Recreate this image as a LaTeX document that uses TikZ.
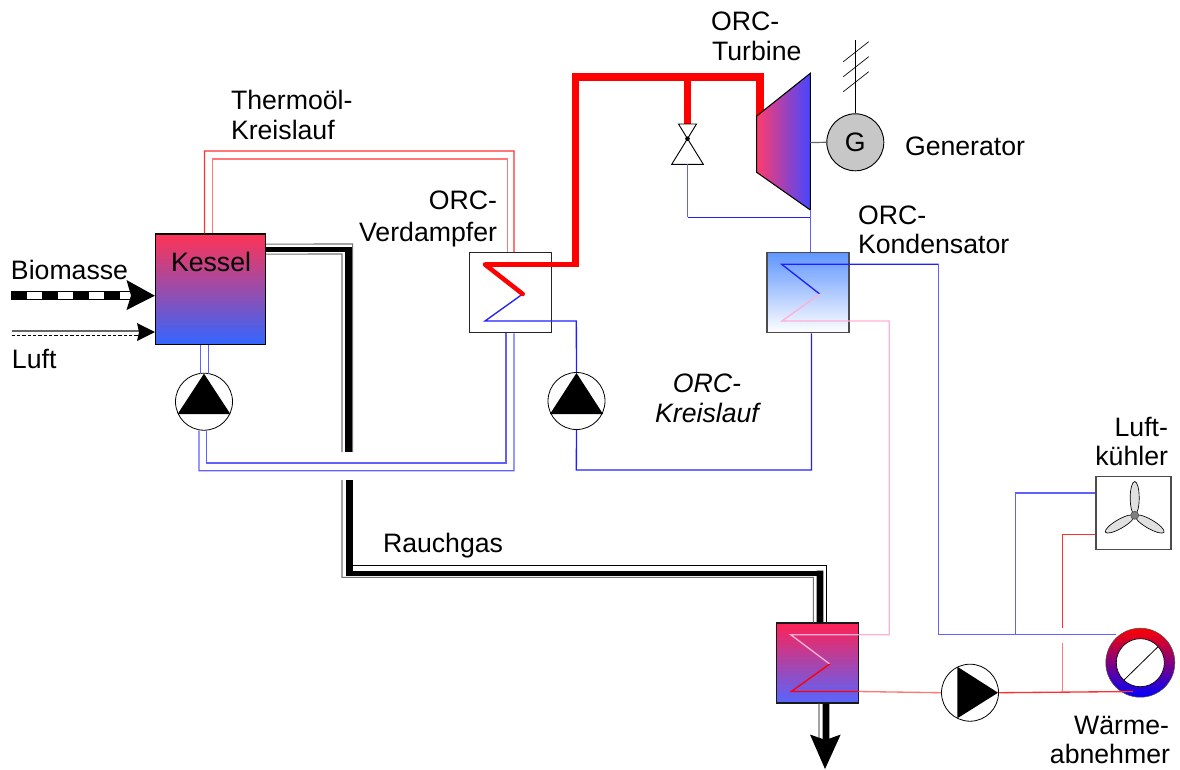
\documentclass[tikz,border=0pt]{standalone}
\usepackage{fontspec}
\setmainfont{Liberation Sans}
\usetikzlibrary{calc}
\definecolor{redA}{HTML}{FF3030}
\definecolor{redB}{HTML}{FF7878}
\definecolor{blueA}{HTML}{2020FF}
\definecolor{blueB}{HTML}{6060FF}
\definecolor{pinkL}{HTML}{FFB0D4}
\tikzset{
  pipe/.style={line width=1pt,miter limit=10},
  boxn/.style 2 args={draw=#1,line width=0.9pt,rectangle,inner sep=0pt,#2},
  hx/.style={minimum width=82*0.75pt,minimum height=80*0.75pt},
  pumpn/.style={draw=black,circle,line width=0.6pt,fill=white,inner sep=0pt,minimum size=57*0.75pt},
  lbl/.style={inner sep=0pt,outer sep=0pt,font=\fontsize{20}{22.5}\selectfont},
  blade/.style={draw=black,line width=0.5pt,fill=black!12}
}
\begin{document}
\begin{tikzpicture}[x=0.75pt,y=-0.75pt]
\useasboundingbox (0,0) rectangle (1180,769);
% ---------- boxes
\node[boxn={black}{},top color={rgb,255:red,255;green,51;blue,85},bottom color={rgb,255:red,51;green,102;blue,255},minimum width=110*0.75pt,minimum height=110.5*0.75pt] (kessel) at (210.5,289.25) {};
\node[boxn={black!85}{fill=white},hx] (verd) at (510.3,292.8) {};
\node[boxn={black!70}{},hx,top color={rgb,255:red,96;green,150;blue,255},bottom color=white] (kond) at (808,292.8) {};
\node[boxn={black!90}{},hx,top color={rgb,255:red,255;green,34;blue,85},bottom color={rgb,255:red,85;green,102;blue,255}] (hex) at (817.7,663) {};
\node[boxn={black!70}{fill=white},minimum width=75*0.75pt,minimum height=72.6*0.75pt] (fanbox) at (1133.5,513) {};
% ---------- Thermoöl pipes
\draw[pipe,redA] ($(kessel.north)+(-6,0)$) -- (204.5,151) -- (514,151) -- ($(verd.north)+(3.7,0)$);
\draw[pipe,redB] ($(kessel.north)+(2,0)$) -- (212.5,159) -- (507.7,159) -- ($(verd.north)+(-2.6,0)$);
% ---------- Rauchgas
\coordinate (gapAo) at (352.7,452); \coordinate (gapBo) at (352.7,480);
\coordinate (gapAm) at (348.3,452); \coordinate (gapBm) at (349.5,480);
\coordinate (gapAi) at (342,452);   \coordinate (gapBi) at (342,480);
\draw[line width=0.8pt,black!55] ($(kessel.east)+(0,-45.2)$) -- (352.7,244) -- (gapAo);
\draw[line width=4pt,black] ($(kessel.east)+(0,-39.5)$) -- (351.6,249.75);
\draw[line width=5pt,black] (348.3,247) -- (gapAm);
\draw[line width=0.8pt,black!55] ($(kessel.east)+(0,-35.2)$) -- (342,254) -- (gapAi);
\draw[line width=0.8pt,black] (gapBo) -- (352.7,565.7) -- (826.3,565.7) -- ($(hex.north)+(8.6,0)$);
\draw[line width=5pt,black] (gapBm) -- (349.5,575.8);
\draw[line width=3.8pt,black] (346.2,573.2) -- (823.3,573.2);
\draw[line width=5pt,black] (820,570.7) -- ($(hex.north)+(2.3,0)$);
\draw[line width=0.8pt,black!55] (gapBi) -- (342,577.3) -- (813.3,577.3) -- ($(hex.north)+(-4.4,0)$);
% outlet
\coordinate (outTip) at (825,769);
\draw[line width=5pt,black] ($(hex.south)+(8.3,0)$) -- (826,741);
\draw[line width=0.8pt,black!55] ($(hex.south)+(1.3,0)$) -- (819,741);
\fill[black] (outTip) -- (810,734.5) -- (825.5,740) -- (840.7,734.5) -- cycle;
% ---------- Biomass and air
\coordinate (bioS) at (11,295.5);
\coordinate (bioT) at ($(kessel.west)+(0,6.5)$);
\draw[line width=6.5pt,black] (bioS) -- (130,295.5);
\draw[line width=4.6pt,white,dash pattern=on 11.5pt off 11.7pt] (27,295.5) -- (130,295.5);
\fill[black] (bioT) -- (126.5,280) -- (131,295.5) -- (126.5,310) -- cycle;
\coordinate (airS) at (11.5,331);
\coordinate (airD) at (11.5,335.3);
\coordinate (airT) at ($(kessel.west)+(0,42.8)$);
\draw[line width=0.9pt,black!60] (airS) -- (140,331);
\draw[line width=0.6pt,black,dash pattern=on 2.5pt off 1.5pt] (airD) -- (140,335.3);
\fill[black] (airT) -- (137,323) -- (139,332) -- (137,341) -- cycle;
% ---------- Boiler circuit
\node[pumpn] (pumpA) at (204,401.7) {};
\draw[pipe,blueB] ($(kessel.south)+(-10,0)$) -- ($(pumpA.center)+(-3.5,-27.5)$);
\draw[pipe,blueB] ($(kessel.south)+(-2,0)$) -- ($(pumpA.center)+(4.5,-27.5)$);
\draw[pipe,blueB] ($(pumpA.south)+(-5,0)$) -- (199,470.7) -- (514,470.7) -- ($(verd.south)+(3.7,0)$);
\draw[pipe,blueB] ($(pumpA.south)+(2.5,0)$) -- (206.5,463) -- (506,463) -- ($(verd.south)+(-4.3,0)$);
\fill[black] (pumpA.center) ++(0,-28) -- ++(-26.5,40.5) -- ++(53,0) -- cycle;
% ---------- ORC circuit
\node[pumpn] (pumpB) at (576.5,401) {};
\fill[black] (pumpB.center) ++(0,-28) -- ++(-26.5,41) -- ++(53,0) -- cycle;
\coordinate (zA) at (485,264.5);
\coordinate (zB) at (522.7,294);
\coordinate (zC) at (485,321);
\draw[pipe,blueA] (zB) -- (zC) -- (576.3,321) -- (pumpB.north);
\draw[pipe,blueA] (pumpB.south) -- (576.3,470) -- (811.5,470) -- ($(kond.south)+(3.5,0)$);
\coordinate (turbL) at (756.7,116);
\coordinate (turbR) at (810.3,73.3);
\coordinate (turbRB) at (810.3,210);
\coordinate (turbLB) at (756.7,172.3);
% valve
\coordinate (vTop) at (687.5,124);
\coordinate (vMid) at (687.5,138.7);
\coordinate (vBot) at (687.5,164.3);
% thick red
\draw[line width=3.4pt,red,line cap=round] (zB) -- (zA);
\draw[line width=3.4pt,red] (zA) -- (579.3,264.5);
\draw[line width=5.3pt,red] (575.8,266.7) -- (575.8,77) -- (760,77) -- (760,118);
\draw[line width=5.3pt,red] (687.8,77) -- (687.8,124);
\draw[line width=0.7pt,black,fill=white] (678.5,124) -- (696.5,124) -- (vMid) -- cycle;
\draw[line width=0.7pt,black,fill=white] (vMid) -- (703.3,164.3) -- (671.7,164.3) -- cycle;
\fill[black] (vMid) circle[radius=2.3];
\draw[pipe,blueB] (vBot) -- (687.5,217.3);
\draw[pipe,blueA] (687.5,217.3) -- (810.3,217.3);
% turbine
\draw[line width=0.8pt,black,left color={rgb,255:red,255;green,60;blue,110},right color={rgb,255:red,70;green,70;blue,255}] (turbL) -- (turbR) -- (turbRB) -- (turbLB) -- cycle;
\draw[pipe,blueB] (turbRB) -- ($(kond.north)+(2.3,0)$);
% generator
\node[draw=black,circle,line width=0.7pt,fill=black!22,inner sep=0pt,minimum size=57*0.75pt,font=\fontsize{20}{22.5}\selectfont] (gen) at (855.3,142.3) {G};
\draw[line width=0.9pt,black!60] (810.3,142.5) -- (gen.west);
\coordinate (gridEnd) at (855.3,40);
\draw[line width=0.7pt,black] (gen.north) -- (gridEnd);
\draw[line width=0.5pt,black] (843.3,61.7) -- (868.7,41.7) (843.3,76.7) -- (868.7,56.7) (843.3,91.7) -- (868.7,71.7);
% condenser coils
\coordinate (kA) at (781.7,264.3);
\coordinate (kB) at (819.7,294);
\coordinate (kC) at (782,321);
\draw[pipe,blueA] (kB) -- (kA) -- (938.5,264.3);
\draw[pipe,blueB] (938.5,264.3) -- (938.5,634.7);
\draw[pipe,pinkL] (kB) -- (kC) -- (889.3,321) -- (889.3,634.7) -- (858.7,634.7);
% ring and heat consumer
\node[circle,inner sep=0pt,draw=black!70,line width=0.4pt,minimum size=69*0.75pt,top color=red,bottom color=blue,middle color={rgb,255:red,128;green,0;blue,128}] (ring) at (1140.3,662.7) {};
\node[circle,inner sep=0pt,draw=black,line width=0.5pt,fill=white,minimum size=48*0.75pt] (ringIn) at (1140.3,662.7) {};
\draw[line width=0.6pt,black] (1124,680) -- (1158,646.7);
% hx coil
\coordinate (hA) at (790.7,634.7);
\coordinate (hB) at (829.7,664);
\coordinate (hC) at (791.3,691.5);
\draw[pipe,pinkL] (858.7,634.7) -- (hA) -- (hB);
\node[pumpn] (pumpC) at (970,692.7) {};
\fill[black] (pumpC.center) ++(-12.7,-26) -- ++(0,51.6) -- ++(40.7,-25.6) -- cycle;
\draw[pipe,red] (hB) -- (hC) -- (858.7,691.5);
\draw[pipe,redB] (858.7,691.5) -- (pumpC.west);
\draw[pipe,redA] (pumpC.east) -- (1133,691.5);
% cooler circuit
\draw[pipe,blueB] (938.5,634.7) -- (1116,634.7);
\draw[pipe,blueB] (1015.7,634.7) -- (1015.7,493) -- ($(fanbox.west)+(0,-20)$);
\coordinate (redGapA) at (1062.7,627.7);
\coordinate (redGapB) at (1062.7,642.7);
\draw[pipe,redA] ($(fanbox.west)+(0,21.3)$) -- (1062.7,534.3) -- (redGapA);
\draw[pipe,redB] (redGapB) -- (1062.7,691.5);
% fan
\coordinate (fanC) at (1134.7,515.3);
\foreach \a in {0,120,240}{
  \draw[blade,rotate around={\a:(fanC)}] (1134.7,498) ellipse[x radius=4.5,y radius=16.5];
}
\fill[black!50,draw=black!70,line width=0.4pt] (fanC) circle[radius=4];
% ---------- labels
\node[lbl,anchor=base west] (tKessel) at (171,271) {Kessel};
\node[lbl,anchor=base west] (tBio) at (11,279) {Biomasse};
\node[lbl,anchor=base west] (tLuft) at (12,368) {Luft};
\node[lbl,anchor=base west] (tTh1) at (231,109) {Thermoöl-};
\node[lbl,anchor=base west] (tTh2) at (231,139) {Kreislauf};
\node[lbl,anchor=base east] (tVd1) at (497,209) {ORC-};
\node[lbl,anchor=base east] (tVd2) at (497,241) {Verdampfer};
\node[lbl,anchor=base west] (tTu1) at (711,30) {ORC-};
\node[lbl,anchor=base west] (tTu2) at (712,60) {Turbine};
\node[lbl,anchor=base west] (tGen) at (905,155) {Generator};
\node[lbl,anchor=base west] (tKo1) at (858,224) {ORC-};
\node[lbl,anchor=base west] (tKo2) at (858,253) {Kondensator};
\node[lbl,anchor=base,font=\fontsize{20}{22.5}\itshape] (tOr1) at (707,392) {ORC-};
\node[lbl,anchor=base,font=\fontsize{20}{22.5}\itshape] (tOr2) at (707,422) {Kreislauf};
\node[lbl,anchor=base east] (tLk1) at (1168,436) {Luft-};
\node[lbl,anchor=base east] (tLk2) at (1168,465) {kühler};
\node[lbl,anchor=base west] (tRg) at (383,552) {Rauchgas};
\node[lbl,anchor=base east] (tWa1) at (1169,734) {Wärme-};
\node[lbl,anchor=base east] (tWa2) at (1170,763) {abnehmer};
\end{tikzpicture}
\end{document}
